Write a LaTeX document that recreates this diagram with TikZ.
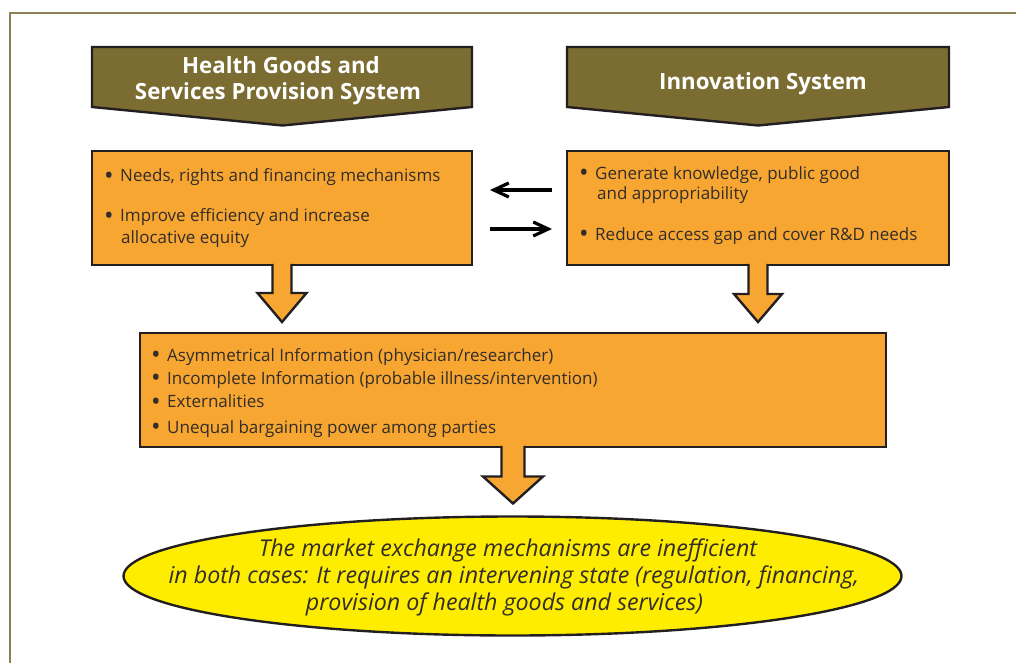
\documentclass[tikz,border=0pt]{standalone}
\usepackage{fontspec}
\setmainfont{Open Sans}
\usetikzlibrary{calc,shapes.geometric,arrows.meta}

\definecolor{framec}{RGB}{140,128,85}
\definecolor{olivec}{RGB}{123,108,50}
\definecolor{orangec}{RGB}{248,166,50}
\definecolor{yellowc}{RGB}{255,237,0}
\definecolor{inkc}{RGB}{50,45,40}
\definecolor{edgec}{RGB}{35,31,32}

\tikzset{
  edge/.style={draw=edgec, line width=2.4pt, line join=miter},
  box/.style={edge, fill=orangec, rectangle, inner sep=0pt, outer sep=0pt, anchor=north west},
  head/.style={edge, fill=olivec},
  headtxt/.style={text=white, font=\fontsize{22.3}{26.7}\selectfont\bfseries, anchor=base, inner sep=0pt},
  item/.style={text=inkc, font=\fontsize{17}{20}\selectfont, anchor=base west, inner sep=0pt},
  goaltxt/.style={text=inkc, font=\fontsize{23.2}{26.7}\selectfont\itshape, anchor=base, inner sep=0pt},
  link/.style={line width=3.2pt, draw=black, -{Straight Barb[length=15pt,width=14pt]}},
}
\newcommand\bul{\llap{\raisebox{-2.6pt}{\scalebox{1.5}{\textbullet}}\hspace{6.5pt}}}
% block arrow pointing down: source anchor, tip, shaft half width, head half width, head length
\newcommand\blockdown[5]{%
  \fill[orangec] ($(#1)+(-#3,-1.4)$) -- ($(#2)+(-#3,-#5)$) -- ($(#2)+(-#4,-#5)$) -- (#2)
    -- ($(#2)+(#4,-#5)$) -- ($(#2)+(#3,-#5)$) -- ($(#1)+(#3,-1.4)$) -- cycle;
  \draw[edge] ($(#1)+(-#3,-1.2)$) -- ($(#2)+(-#3,-#5)$) -- ($(#2)+(-#4,-#5)$) -- (#2)
    -- ($(#2)+(#4,-#5)$) -- ($(#2)+(#3,-#5)$) -- ($(#1)+(#3,-1.2)$);
}

\begin{document}
\begin{tikzpicture}[x=1pt,y=-1pt]
\useasboundingbox (0,0) rectangle (1016,663);

% page frame
\draw[framec, line width=1.4pt] (10,663) -- (10,13) -- (1016,13);

% header banners
\draw[head] (92,47) -- (472,47) -- (472,107) -- (282.5,125.5) -- (92,107) -- cycle;
\draw[head] (567,47) -- (949,47) -- (949,107) -- (758,125.5) -- (567,107) -- cycle;
\node[headtxt] (h1a) at (281,73.3) {Health Goods and};
\node[headtxt] (h1b) at (278,100) {Services Provision System};
\node[headtxt] (h2) at (763,89.3) {Innovation System};

% boxes
\node[box, minimum width=380pt, minimum height=114pt] (lbox) at (92,151) {};
\node[box, minimum width=382pt, minimum height=114pt] (rbox) at (567,151) {};
\node[box, minimum width=746pt, minimum height=114pt] (mbox) at (140,333) {};
\node[ellipse, edge, fill=yellowc, minimum width=778pt, minimum height=119pt,
      inner sep=0pt, outer sep=0pt] (goal) at (512.5,576) {};

% box texts
\node[item] (l1) at (120,181.7) {\bul Needs, rights and financing mechanisms};
\node[item] (l2) at (120,221.7) {\bul Improve efficiency and increase};
\node[item] (l3) at (121,243.3) {allocative equity};

\node[item] (r1) at (595,179.3) {\bul Generate knowledge, public good};
\node[item] (r2) at (597,199.3) {and appropriability};
\node[item] (r3) at (595,240) {\bul Reduce access gap and cover R\&D needs};

\node[item] (m1) at (167,361) {\bul Asymmetrical Information (physician/researcher)};
\node[item] (m2) at (167,384) {\bul Incomplete Information (probable illness/intervention)};
\node[item] (m3) at (167,407.5) {\bul Externalities};
\node[item] (m4) at (167,433) {\bul Unequal bargaining power among parties};

\node[goaltxt] (g1) at (508,556.7) {The market exchange mechanisms are inefficient};
\node[goaltxt] (g2) at (514,583.3) {in both cases: It requires an intervening state (regulation, financing,};
\node[goaltxt] (g3) at (504.5,610) {provision of health goods and services)};

% links between the two systems
\draw[link, shorten <=15pt, shorten >=18pt] ([yshift=18pt]rbox.west) -- ([yshift=18pt]lbox.east);
\draw[link, shorten <=18pt, shorten >=15pt] ([yshift=-21pt]lbox.east) -- ([yshift=-21pt]rbox.west);

% block arrows
\coordinate (t1) at ($(lbox.south |- mbox.north)+(0,-11)$);
\coordinate (t2) at ($(rbox.south |- mbox.north)+(0,-11)$);
\coordinate (t3) at ($(mbox.south |- goal.north)+(0,-13)$);
\blockdown{lbox.south}{t1}{9.5}{24.5}{29}
\blockdown{rbox.south}{t2}{9.5}{24}{28}
\blockdown{mbox.south}{t3}{11.5}{30}{27}
\end{tikzpicture}
\end{document}
